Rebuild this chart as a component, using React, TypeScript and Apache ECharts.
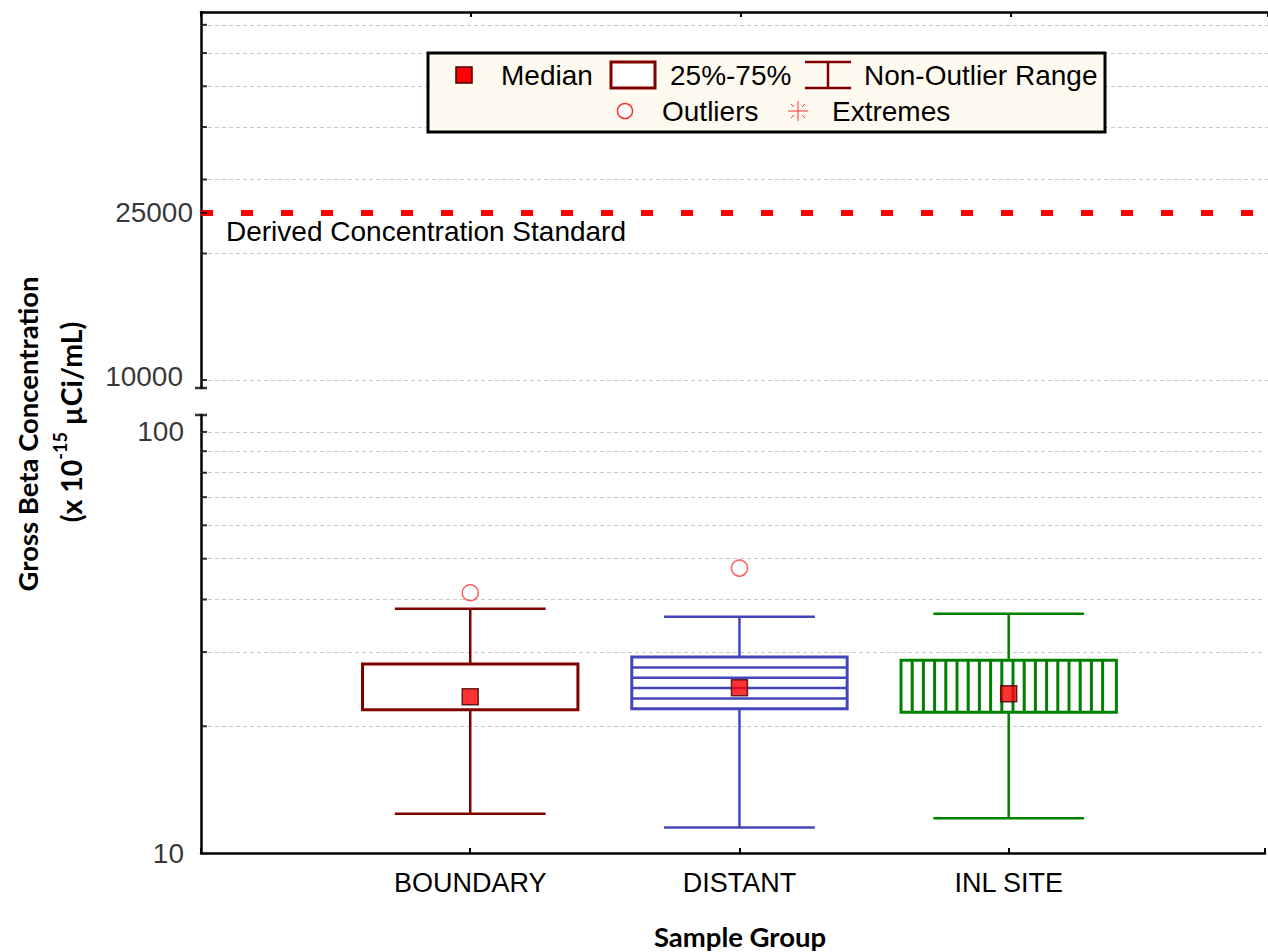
import React, { useEffect, useRef } from "react";
import * as echarts from "echarts";

const categories = ["BOUNDARY", "DISTANT", "INL SITE"];
const lowWhisker = [12.4, 11.5, 12.1];
const q1Values = [21.9, 22.0, 21.6];
const medians = [23.5, 24.7, 23.9];
const q3Values = [28.1, 29.2, 28.7];
const highWhisker = [38.0, 36.4, 37.0];
const outlierGroups = [1, 2];
const outlierValues = [41.5, 47.5];

const dcsValue = 25000;
const upperGridValues = [10000, 20000, 30000, 40000, 50000, 60000, 70000];
const upperTickValues = [10000, 20000, 25000, 30000, 40000, 50000, 60000, 70000];
const upperLabelValues = [10000, 25000];
const lowerGridValues = [20, 30, 40, 50, 60, 70, 80, 90, 100];
const lowerLabelValues = [10, 100];
const upperRange = [9571, 75100];
const lowerRange = [10, 109.7];

const boxColors = ["#800000", "#4444bb", "#008000"];
const hatchKinds = ["none", "horizontal", "vertical"];

const FONT = "'Liberation Sans', Arial, sans-serif";
const TITLE_FONT = "Lato, 'Open Sans', sans-serif";

export default function App() {
  const ref = useRef<HTMLDivElement>(null);

  useEffect(() => {
    document.body.style.margin = "0";
    if (!ref.current) return;
    const chart = echarts.init(ref.current, undefined, { renderer: "svg" });

    const gridLineStyle = { color: "#c8c8c8", type: [4, 3] as any, width: 1 };
    const tickSeries = (xi: number, values: number[]) => ({
      type: "scatter",
      xAxisIndex: xi,
      yAxisIndex: xi,
      silent: true,
      clip: false,
      symbol: "rect",
      symbolSize: [6, 2],
      symbolOffset: [3, 0],
      itemStyle: { color: "#000" },
      data: values.map((v) => [0, v]),
      z: 5,
    });
    const capSeries = (xi: number, v: number) => ({
      type: "scatter",
      xAxisIndex: xi,
      yAxisIndex: xi,
      silent: true,
      clip: false,
      symbol: "rect",
      symbolSize: [12, 2.5],
      itemStyle: { color: "#000" },
      data: [[0, v]],
      z: 5,
    });
    const labelSeries = (xi: number, values: number[], distances: number[], dy: number[]) => ({
      type: "scatter",
      xAxisIndex: xi,
      yAxisIndex: xi,
      silent: true,
      clip: false,
      symbolSize: 0,
      data: values.map((v, i) => ({
        value: [0, v],
        label: {
          show: true,
          position: "left",
          distance: distances[i],
          offset: [0, dy[i]],
          formatter: () => String(v),
          color: "#000",
          fontSize: 28,
          fontFamily: FONT,
        },
      })),
      z: 5,
    });

    const boxData = categories.map((_, i) => [
      i + 1,
      lowWhisker[i],
      q1Values[i],
      medians[i],
      q3Values[i],
      highWhisker[i],
    ]);

    const renderBox = (params: any, api: any) => {
      const i = params.dataIndex;
      const x = api.value(0);
      const color = boxColors[i];
      const low = api.coord([x, api.value(1)]);
      const cx = low[0];
      const yLow = low[1];
      const yQ1 = api.coord([x, api.value(2)])[1];
      const yQ3 = api.coord([x, api.value(4)])[1];
      const yHigh = api.coord([x, api.value(5)])[1];
      const bl = api.coord([x - 0.4, api.value(2)])[0];
      const br = api.coord([x + 0.4, api.value(2)])[0];
      const cl = api.coord([x - 0.28, api.value(2)])[0];
      const cr = api.coord([x + 0.28, api.value(2)])[0];
      const children: any[] = [
        { type: "line", shape: { x1: cx, y1: yLow, x2: cx, y2: yHigh }, style: { stroke: color, lineWidth: 2.5 } },
        { type: "line", shape: { x1: cl, y1: yLow, x2: cr, y2: yLow }, style: { stroke: color, lineWidth: 2.5 } },
        { type: "line", shape: { x1: cl, y1: yHigh, x2: cr, y2: yHigh }, style: { stroke: color, lineWidth: 2.5 } },
        {
          type: "rect",
          shape: { x: bl, y: yQ3, width: br - bl, height: yQ1 - yQ3 },
          style: { fill: "#fff", stroke: color, lineWidth: 3 },
        },
      ];
      if (hatchKinds[i] === "horizontal") {
        const step = (yQ1 - yQ3) / 5;
        for (let k = 1; k < 5; k++) {
          const y = yQ3 + k * step;
          children.push({ type: "line", shape: { x1: bl, y1: y, x2: br, y2: y }, style: { stroke: color, lineWidth: 2.5 } });
        }
      } else if (hatchKinds[i] === "vertical") {
        const step = 11.2;
        for (let xx = bl + step; xx < br - 3; xx += step) {
          children.push({ type: "line", shape: { x1: xx, y1: yQ3, x2: xx, y2: yQ1 }, style: { stroke: color, lineWidth: 3 } });
        }
      }
      return { type: "group", children };
    };

    const legendY1 = 75;
    const legendY2 = 111;
    const legendText = (text: string, x: number, y: number) => ({
      type: "text",
      x,
      y,
      z: 101,
      style: { text, fill: "#000", fontSize: 28, fontFamily: FONT, align: "left", verticalAlign: "middle" },
    });
    const starX = 798;
    const starR = 10;

    const option: any = {
      animation: false,
      grid: [
        { left: 201, right: 0, top: 12, height: 376 },
        { left: 201, right: 0, top: 415, bottom: 99 },
      ],
      xAxis: [
        {
          type: "value",
          gridIndex: 0,
          position: "top",
          min: 0,
          max: 3.952,
          interval: 1,
          axisLine: { show: true, lineStyle: { color: "#000", width: 2.5 } },
          axisTick: { show: true, inside: true, length: 5, lineStyle: { color: "#000", width: 2 } },
          axisLabel: { show: false },
          splitLine: { show: false },
        },
        {
          type: "value",
          gridIndex: 1,
          position: "bottom",
          min: 0,
          max: 3.952,
          interval: 1,
          axisLine: { show: true, lineStyle: { color: "#000", width: 2.5 } },
          axisTick: { show: true, inside: true, length: 5, lineStyle: { color: "#000", width: 2 } },
          axisLabel: {
            show: true,
            margin: 16,
            color: "#000",
            fontSize: 27,
            fontFamily: FONT,
            formatter: (v: number) => categories[Math.round(v) - 1] ?? "",
          },
          splitLine: { show: false },
        },
      ],
      yAxis: [
        {
          type: "log",
          gridIndex: 0,
          min: upperRange[0],
          max: upperRange[1],
          axisLine: { show: true, lineStyle: { color: "#000", width: 2.5 } },
          axisTick: { show: false },
          axisLabel: { show: false },
          splitLine: { show: false },
        },
        {
          type: "log",
          gridIndex: 1,
          min: lowerRange[0],
          max: lowerRange[1],
          axisLine: { show: true, lineStyle: { color: "#000", width: 2.5 } },
          axisTick: { show: false },
          axisLabel: { show: false },
          splitLine: { show: false },
        },
      ],
      series: [
        {
          type: "line",
          xAxisIndex: 0,
          yAxisIndex: 0,
          data: [],
          markLine: {
            silent: true,
            symbol: "none",
            lineStyle: gridLineStyle,
            label: { show: false },
            data: upperGridValues.map((v) => ({ yAxis: v })),
          },
        },
        {
          type: "line",
          xAxisIndex: 1,
          yAxisIndex: 1,
          data: [],
          markLine: {
            silent: true,
            symbol: "none",
            lineStyle: gridLineStyle,
            label: { show: false },
            data: lowerGridValues.map((v) => ({ yAxis: v })),
          },
        },
        {
          type: "line",
          xAxisIndex: 0,
          yAxisIndex: 0,
          data: [],
          z: 4,
          markLine: {
            silent: true,
            symbol: "none",
            lineStyle: { color: "#ff0000", width: 6, type: [12, 28] },
            label: {
              show: true,
              position: "insideStartBottom",
              distance: [25, 5],
              formatter: "Derived Concentration Standard",
              color: "#000",
              fontSize: 28,
              fontFamily: FONT,
            },
            data: [{ yAxis: dcsValue }],
          },
        },
        tickSeries(0, upperTickValues),
        tickSeries(1, lowerGridValues),
        capSeries(0, upperRange[0]),
        capSeries(1, lowerRange[1]),
        labelSeries(0, upperLabelValues, [18, 8], [-3, 0]),
        labelSeries(1, lowerLabelValues, [17, 17], [0, 0]),
        {
          type: "custom",
          xAxisIndex: 1,
          yAxisIndex: 1,
          renderItem: renderBox,
          encode: { x: 0, y: [1, 2, 3, 4, 5] },
          data: boxData,
          z: 6,
        },
        {
          type: "scatter",
          xAxisIndex: 1,
          yAxisIndex: 1,
          symbol: "rect",
          symbolSize: 16,
          itemStyle: { color: "#ff0000", borderColor: "#400000", borderWidth: 1.5 },
          data: medians.map((m, i) => [i + 1, m]),
          z: 8,
        },
        {
          type: "scatter",
          xAxisIndex: 1,
          yAxisIndex: 1,
          symbol: "circle",
          symbolSize: 16,
          itemStyle: { color: "rgba(255,255,255,0)", borderColor: "#ff3333", borderWidth: 1.5 },
          data: outlierGroups.map((g, i) => [g, outlierValues[i]]),
          z: 8,
        },
      ],
      graphic: [
        {
          type: "rect",
          z: 100,
          shape: { x: 428, y: 53, width: 677, height: 79 },
          style: { fill: "#fffaf0", stroke: "#000", lineWidth: 3 },
        },
        {
          type: "rect",
          z: 101,
          shape: { x: 456, y: legendY1 - 8, width: 16, height: 16 },
          style: { fill: "#ff0000", stroke: "#400000", lineWidth: 1.5 },
        },
        legendText("Median", 501, legendY1),
        {
          type: "rect",
          z: 101,
          shape: { x: 611, y: 62, width: 44, height: 26 },
          style: { fill: "#fff", stroke: "#800000", lineWidth: 3 },
        },
        legendText("25%-75%", 670, legendY1),
        { type: "line", z: 101, shape: { x1: 805, y1: 62, x2: 851, y2: 62 }, style: { stroke: "#800000", lineWidth: 2.5 } },
        { type: "line", z: 101, shape: { x1: 805, y1: 88, x2: 851, y2: 88 }, style: { stroke: "#800000", lineWidth: 2.5 } },
        { type: "line", z: 101, shape: { x1: 828, y1: 62, x2: 828, y2: 88 }, style: { stroke: "#800000", lineWidth: 2.5 } },
        legendText("Non-Outlier Range", 864, legendY1),
        {
          type: "circle",
          z: 101,
          shape: { cx: 625, cy: legendY2, r: 7.5 },
          style: { fill: "#fff", stroke: "#ff3333", lineWidth: 1.5 },
        },
        legendText("Outliers", 662, legendY2),
        { type: "line", z: 101, shape: { x1: starX - starR, y1: legendY2, x2: starX + starR, y2: legendY2 }, style: { stroke: "#ff3333", lineWidth: 1 } },
        { type: "line", z: 101, shape: { x1: starX, y1: legendY2 - starR, x2: starX, y2: legendY2 + starR }, style: { stroke: "#ff3333", lineWidth: 1 } },
        { type: "line", z: 101, shape: { x1: starX - 7, y1: legendY2 - 7, x2: starX - 4, y2: legendY2 - 4 }, style: { stroke: "#ff3333", lineWidth: 1 } },
        { type: "line", z: 101, shape: { x1: starX + 7, y1: legendY2 - 7, x2: starX + 4, y2: legendY2 - 4 }, style: { stroke: "#ff3333", lineWidth: 1 } },
        { type: "line", z: 101, shape: { x1: starX - 7, y1: legendY2 + 7, x2: starX - 4, y2: legendY2 + 4 }, style: { stroke: "#ff3333", lineWidth: 1 } },
        { type: "line", z: 101, shape: { x1: starX + 7, y1: legendY2 + 7, x2: starX + 4, y2: legendY2 + 4 }, style: { stroke: "#ff3333", lineWidth: 1 } },
        legendText("Extremes", 832, legendY2),
        {
          type: "text",
          x: 27,
          y: 434,
          rotation: Math.PI / 2,
          z: 101,
          style: {
            text: "Gross Beta Concentration",
            fill: "#000",
            fontSize: 27.5,
            fontWeight: "bold",
            fontFamily: TITLE_FONT,
            align: "center",
            verticalAlign: "middle",
          },
        },
        {
          type: "text",
          x: 68,
          y: 422,
          rotation: Math.PI / 2,
          z: 101,
          style: {
            text: "{n|(x 10}{s|-15}{n| \u00b5Ci/mL)}",
            fill: "#000",
            align: "center",
            verticalAlign: "middle",
            rich: {
              n: { fontSize: 28.5, fontWeight: "bold", fontFamily: TITLE_FONT, lineHeight: 34, verticalAlign: "bottom", fill: "#000" },
              s: { fontSize: 18, fontWeight: "bold", fontFamily: TITLE_FONT, lineHeight: 18, verticalAlign: "top", fill: "#000" },
            },
          },
        },
        {
          type: "text",
          x: 740,
          y: 936,
          z: 101,
          style: {
            text: "Sample Group",
            fill: "#000",
            fontSize: 27.5,
            fontWeight: "bold",
            fontFamily: TITLE_FONT,
            align: "center",
            verticalAlign: "middle",
          },
        },
      ],
    };

    chart.setOption(option);
    return () => chart.dispose();
  }, []);

  return <div ref={ref} style={{ width: 1268, height: 952 }} />;
}
